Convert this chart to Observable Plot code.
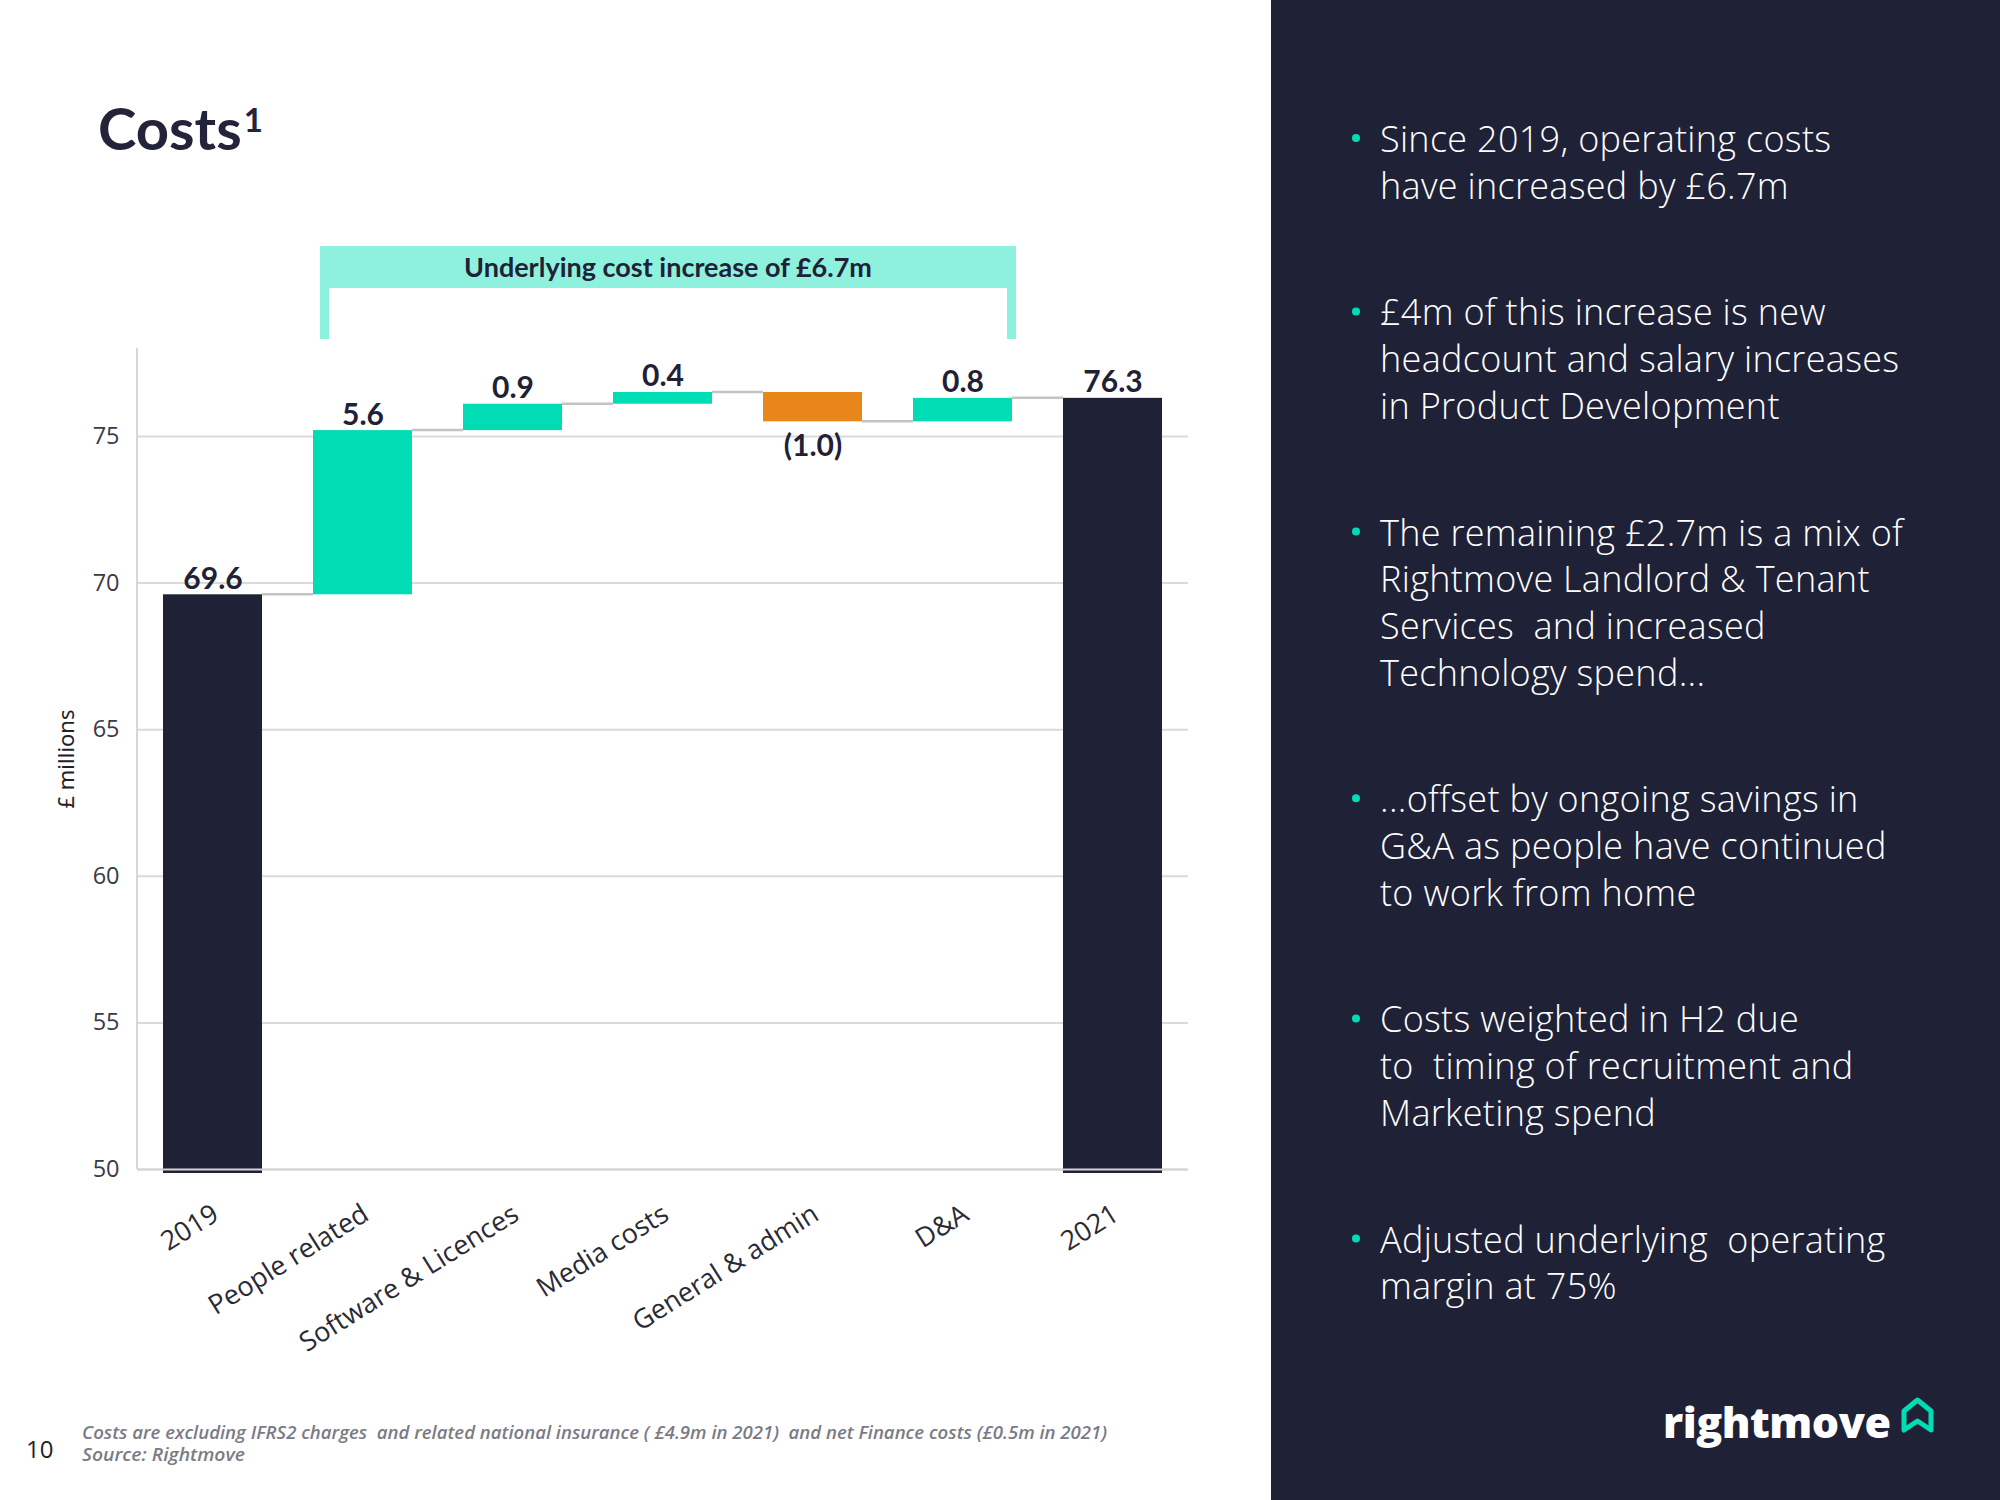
<!DOCTYPE html>
<html><head><meta charset="utf-8">
<script src="https://cdn.jsdelivr.net/npm/d3@7"></script>
<script src="https://cdn.jsdelivr.net/npm/@observablehq/plot@0.6"></script>
<style>
html,body{margin:0;padding:0;background:#fff;}
#page{position:relative;width:2000px;height:1500px;overflow:hidden;background:#fff;}
#panel{position:absolute;left:1271px;top:0;width:729px;height:1500px;background:#1f2236;}
#chart{position:absolute;left:0;top:0;width:1271px;}
#overlay{position:absolute;left:0;top:0;}
</style></head><body>
<div id="page"><div id="panel"></div><div id="chart"></div><svg id="overlay" width="2000" height="1500" xmlns="http://www.w3.org/2000/svg"></svg></div>
<script>
// ---------- data ----------
const categories = ["2019", "People related", "Software & Licences", "Media costs", "General & admin", "D&A", "2021"];
const amounts = [69.6, 5.6, 0.9, 0.4, -1.0, 0.8, 76.3];
const barKinds = ["total", "increase", "increase", "increase", "decrease", "increase", "total"];
const valueLabels = ["69.6", "5.6", "0.9", "0.4", "(1.0)", "0.8", "76.3"];
const yTicks = [50, 55, 60, 65, 70, 75];
const yDomain = [50, 78];
const yAxisLabel = "£ millions";
const bracketText = "Underlying cost increase of £6.7m";
const bracketFrom = "People related";
const bracketTo = "D&A";
const titleText = "Costs";
const titleSup = "1";
const footnotes = ["Costs are excluding IFRS2 charges  and related national insurance ( £4.9m in 2021)  and net Finance costs (£0.5m in 2021)", "Source: Rightmove"];
const pageNumber = "10";
const bullets = [
  ["Since 2019, operating costs", "have increased by £6.7m"],
  ["£4m of this increase is new", "headcount and salary increases", "in Product Development"],
  ["The remaining £2.7m is a mix of", "Rightmove Landlord & Tenant", "Services  and increased", "Technology spend..."],
  ["...offset by ongoing savings in", "G&A as people have continued", "to work from home"],
  ["Costs weighted in H2 due", "to  timing of recruitment and", "Marketing spend"],
  ["Adjusted underlying  operating", "margin at 75%"]
];
const brand = "rightmove";

// ---------- derived table ----------
const colorOf = {total: "#1f2236", increase: "#00dcb4", decrease: "#e8861a"};
let running = yDomain[0];
const rows = categories.map((cat, i) => {
  let start, end;
  if (barKinds[i] === "total") { start = yDomain[0]; end = amounts[i]; }
  else { start = running; end = running + amounts[i]; }
  running = end;
  return {cat, start, end, kind: barKinds[i], color: colorOf[barKinds[i]], label: valueLabels[i],
          top: Math.max(start, end), bottom: Math.min(start, end)};
});

const plot = Plot.plot({
  width: 1271, height: 1390,
  marginLeft: 137, marginRight: 83, marginTop: 348, marginBottom: 221,
  style: {fontFamily: "Lato, sans-serif", background: "transparent", overflow: "visible"},
  x: {domain: categories, paddingInner: 0.337, paddingOuter: 0.17, axis: null},
  y: {domain: yDomain},
  color: {type: "identity"},
  marks: [
    Plot.gridY(yTicks, {stroke: "#dadada", strokeOpacity: 1, strokeWidth: 2}),
    Plot.axisY(yTicks, {tickSize: 0, tickPadding: 18, fontSize: 23.5, fill: "#3a3a48", label: null, fontFamily: "Open Sans, sans-serif"}),
    Plot.barY(rows.filter(d => d.kind === "total"), {x: "cat", y1: "start", y2: "end", fill: "color", insetBottom: -4}),
    Plot.barY(rows.filter(d => d.kind !== "total"), {x: "cat", y1: "start", y2: "end", fill: "color"}),
    Plot.ruleY([yDomain[0]], {stroke: "#d4d4d4", strokeWidth: 2}),
    Plot.text(rows.filter(d => d.end >= d.start), {x: "cat", y: "top", text: "label", lineAnchor: "bottom", dy: -6, fontSize: 30, fontWeight: 700, fill: "#1f2236"}),
    Plot.text(rows.filter(d => d.end < d.start), {x: "cat", y: "bottom", text: "label", lineAnchor: "top", dy: 13, fontSize: 30, fontWeight: 700, fill: "#1f2236"}),
    Plot.text(categories, {x: d => d, frameAnchor: "bottom", text: d => d, rotate: -32, textAnchor: "end", lineAnchor: "middle", dy: 42, dx: 3, fontSize: 27, fontFamily: "Open Sans, sans-serif", fill: "#2a2a35"}),
    Plot.text([yAxisLabel], {frameAnchor: "left", textAnchor: "middle", dx: -71, rotate: -90, text: d => d, fontSize: 22, fontFamily: "Noto Sans, sans-serif", fill: "#222"})
  ]
});
document.getElementById("chart").appendChild(plot);

// axis line, connectors & bracket via the plot's own scales
const xs = plot.scale("x"), ys = plot.scale("y");
const bw = xs.bandwidth;
const svg = d3.select(plot);
svg.append("line").attr("x1", xs.range[0]).attr("x2", xs.range[0]).attr("y1", ys.apply(yDomain[1])).attr("y2", ys.apply(yDomain[0]))
  .attr("stroke", "#d6d6d6").attr("stroke-width", 2);
const conn = svg.append("g").attr("stroke", "#c4c4c4").attr("stroke-width", 2.5);
for (let i = 0; i < rows.length - 1; i++) {
  const yy = ys.apply(rows[i].end);
  conn.append("line").attr("x1", xs.apply(rows[i].cat) + bw).attr("x2", xs.apply(rows[i + 1].cat)).attr("y1", yy).attr("y2", yy);
}
const topY = ys.apply(yDomain[1]);
const bl = xs.apply(bracketFrom) + 7, br = xs.apply(bracketTo) + bw + 4;
const bTop = topY - 102, bBottom = topY - 60, legBottom = topY - 9;
const bg = svg.append("g").attr("fill", "#8ef1dd");
bg.append("rect").attr("x", bl).attr("y", bTop).attr("width", br - bl).attr("height", bBottom - bTop);
bg.append("rect").attr("x", bl).attr("y", bBottom).attr("width", 9).attr("height", legBottom - bBottom);
bg.append("rect").attr("x", br - 9).attr("y", bBottom).attr("width", 9).attr("height", legBottom - bBottom);
svg.append("text").attr("x", (bl + br) / 2).attr("y", bTop + 31).attr("text-anchor", "middle")
  .attr("font-size", 27).attr("font-weight", 700).attr("font-family", "Lato, sans-serif").attr("fill", "#1f2236").text(bracketText);

// ---------- overlay texts ----------
const ov = d3.select("#overlay");
const t = ov.append("text").attr("x", 98).attr("y", 150).attr("font-family", "Lato, sans-serif").attr("font-weight", 700).attr("font-size", 58).attr("fill", "#23243a");
t.append("tspan").text(titleText);
t.append("tspan").attr("font-size", 33).attr("dy", -18).attr("dx", 2).text(titleSup);

ov.append("text").attr("x", 82).attr("y", 1439).attr("font-family", "Open Sans, sans-serif").attr("font-style", "italic").attr("font-weight", 600)
  .attr("font-size", 18).attr("fill", "#7b7b85").attr("textLength", 1025).attr("lengthAdjust", "spacingAndGlyphs").style("white-space", "pre").text(footnotes[0]);
ov.append("text").attr("x", 82).attr("y", 1461).attr("font-family", "Open Sans, sans-serif").attr("font-style", "italic").attr("font-weight", 600)
  .attr("font-size", 18).attr("fill", "#7b7b85").attr("textLength", 163).attr("lengthAdjust", "spacingAndGlyphs").text(footnotes[1]);
ov.append("text").attr("x", 26).attr("y", 1458).attr("font-family", "Open Sans, sans-serif").attr("font-size", 24).attr("fill", "#222").text(pageNumber);

let base = 152;
const lh = 46.7;
bullets.forEach(lines => {
  ov.append("circle").attr("cx", 1356).attr("cy", base - 14).attr("r", 4).attr("fill", "#00dcb4");
  lines.forEach((line, j) => {
    ov.append("text").attr("x", 1380).attr("y", base + j * lh).attr("font-family", "Open Sans, sans-serif").attr("font-weight", 300)
      .attr("font-size", 36).attr("letter-spacing", 0.3).attr("fill", "#ffffff").style("white-space", "pre").style("font-variant-ligatures", "none").text(line);
  });
  base += lines.length * lh + 80;
});

ov.append("text").attr("x", 1663).attr("y", 1438).attr("font-family", "Open Sans, sans-serif").attr("font-weight", 800)
  .attr("font-size", 43).attr("fill", "#ffffff").attr("letter-spacing", -0.5).text(brand);
ov.append("path").attr("d", "M1904,1430 L1904,1411 L1917.5,1400 L1931,1411 L1931,1430 L1917.5,1421 Z")
  .attr("fill", "none").attr("stroke", "#00dcb4").attr("stroke-width", 5).attr("stroke-linejoin", "round");
</script>
</body></html>
